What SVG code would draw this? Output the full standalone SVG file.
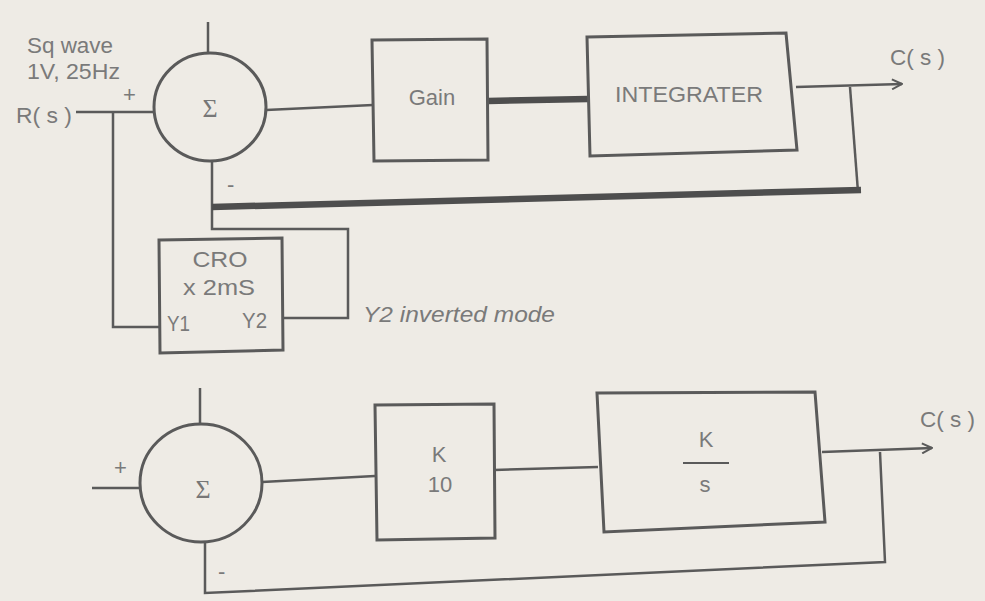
<svg xmlns="http://www.w3.org/2000/svg" width="985" height="601" viewBox="0 0 985 601">
<style>
.ln{fill:none;stroke:#5a5a5a;stroke-width:2.5;stroke-linejoin:miter}
.thick{fill:none;stroke:#4e4e4e;stroke-width:6.5}
.box{fill:none;stroke:#5a5a5a;stroke-width:3}
.t{font-family:"Liberation Sans",Arial,sans-serif;fill:#7a7a7a;font-size:22px}
.sig{font-family:"Liberation Serif","Times New Roman",serif;fill:#777;font-size:26px}
</style>
<defs>
<marker id="arr" viewBox="0 0 12 12" refX="11" refY="6" markerWidth="12" markerHeight="12" markerUnits="userSpaceOnUse" orient="auto">
<path d="M1,1 L11,6 L1,11" fill="none" stroke="#5a5a5a" stroke-width="2"/>
</marker>
</defs>
<rect width="985" height="601" fill="#eeebe5"/>

<g id="connectors">
<!-- top loop -->
<path class="ln" d="M208,22 V53"/>
<path class="ln" d="M76,112 H154"/>
<path class="ln" d="M113,112 V327 H159"/>
<path class="ln" d="M266,110 L373,105"/>
<path class="thick" d="M488,101 L588,99"/>
<path class="ln" d="M796,87 L902,84" marker-end="url(#arr)"/>
<path class="ln" d="M850,87 L858,192"/>
<path class="ln" d="M212,160 V229 H348 V318 H283"/>
<path class="thick" d="M212,207 L861,190"/>
<!-- bottom loop -->
<path class="ln" d="M200,388 V424"/>
<path class="ln" d="M92,488 H141"/>
<path class="ln" d="M262,482 L375,476"/>
<path class="ln" d="M494,470 L598,467"/>
<path class="ln" d="M822,452 L932,448" marker-end="url(#arr)"/>
<path class="ln" d="M880,452 L885,562 L205,593 V542"/>
</g>

<g id="labels">
<text class="t" x="27" y="53" textLength="86" lengthAdjust="spacingAndGlyphs">Sq wave</text>
<text class="t" x="27" y="79" textLength="93" lengthAdjust="spacingAndGlyphs">1V, 25Hz</text>
<text class="t" x="16" y="123" textLength="56" lengthAdjust="spacingAndGlyphs">R( s )</text>
<text class="t" x="123" y="102" font-size="16">+</text>
<text class="t" x="227" y="192" font-size="16">-</text>
<text class="t" x="890" y="65" textLength="55" lengthAdjust="spacingAndGlyphs">C( s )</text>
<text class="t" x="363" y="322" font-style="italic" textLength="192" lengthAdjust="spacingAndGlyphs">Y2 inverted mode</text>
<text class="t" x="114" y="475" font-size="15">+</text>
<text class="t" x="218" y="579" font-size="16">-</text>
<text class="t" x="920" y="427" textLength="55" lengthAdjust="spacingAndGlyphs">C( s )</text>
</g>

<g id="sum1">
<ellipse class="box" cx="210" cy="107" rx="56" ry="54"/>
<text class="sig" x="210" y="117" text-anchor="middle">Σ</text>
</g>

<g id="gain">
<path class="box" d="M372,40 L487,39 L488,160 L374,161 Z"/>
<text class="t" x="432" y="105" text-anchor="middle" font-size="23">Gain</text>
</g>

<g id="integrater">
<path class="box" d="M587,37 L786,33 L797,150 L590,156 Z"/>
<text class="t" x="689" y="102" text-anchor="middle" font-size="23" textLength="148" lengthAdjust="spacingAndGlyphs">INTEGRATER</text>
</g>

<g id="cro">
<path class="box" d="M159,240 L282,238 L283,350 L160,353 Z"/>
<text class="t" x="220" y="267" text-anchor="middle" textLength="55" lengthAdjust="spacingAndGlyphs">CRO</text>
<text class="t" x="219" y="295" text-anchor="middle" textLength="72" lengthAdjust="spacingAndGlyphs">x 2mS</text>
<text class="t" x="167" y="331" textLength="23" lengthAdjust="spacingAndGlyphs">Y1</text>
<text class="t" x="242" y="328" textLength="25" lengthAdjust="spacingAndGlyphs">Y2</text>
</g>

<g id="sum2">
<ellipse class="box" cx="201" cy="483" rx="61" ry="59"/>
<text class="sig" x="203" y="498" text-anchor="middle">Σ</text>
</g>

<g id="k10">
<path class="box" d="M375,405 L494,404 L495,538 L377,540 Z"/>
<text class="t" x="439" y="462" text-anchor="middle">K</text>
<text class="t" x="440" y="492" text-anchor="middle">10</text>
</g>

<g id="ks">
<path class="box" d="M597,393 L815,392 L825,522 L604,532 Z"/>
<text class="t" x="706" y="447" text-anchor="middle">K</text>
<path d="M683,463 H729" stroke="#5a5a5a" stroke-width="2"/>
<text class="t" x="705" y="492" text-anchor="middle">s</text>
</g>
</svg>
